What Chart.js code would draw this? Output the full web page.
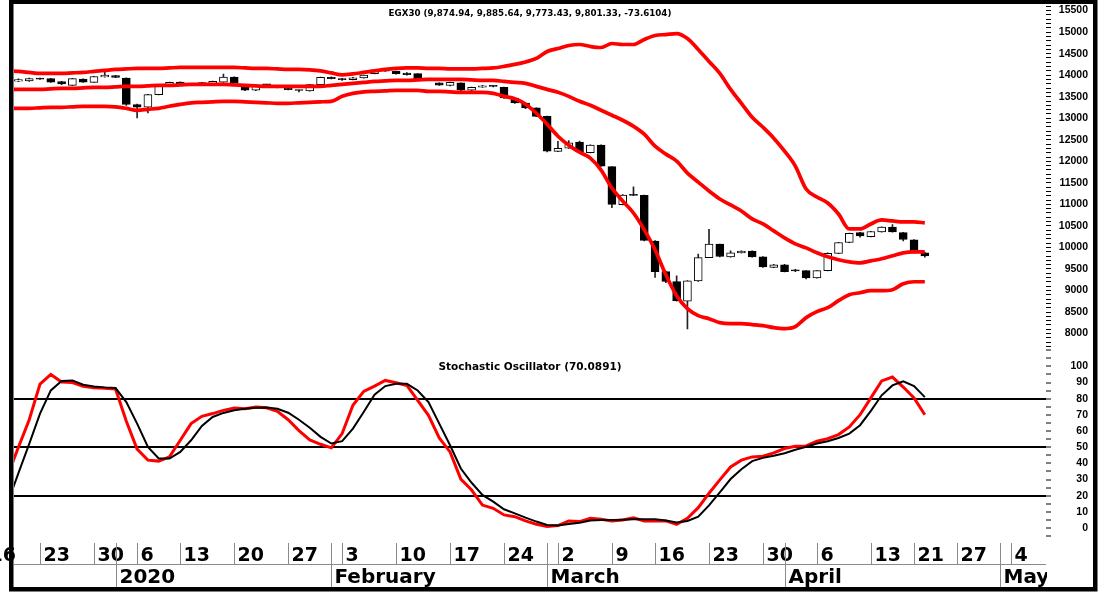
<!DOCTYPE html>
<html>
<head>
<meta charset="utf-8">
<title>EGX30</title>
<script src="https://cdn.jsdelivr.net/npm/chart.js@4.4.0/dist/chart.umd.min.js"></script>
<style>
    html, body { margin: 0; padding: 0; background: #fff; }
    #egxChart { display: block; }
</style>
</head>
<body>
<canvas id="egxChart" width="1104" height="593"></canvas>
<script>
// trading sessions shown on the date axis (Sun-Thu, holidays removed)
var sessions = [
    '2019-12-16', '2019-12-17', '2019-12-18', '2019-12-19', '2019-12-22', '2019-12-23', '2019-12-24', '2019-12-25',
    '2019-12-26', '2019-12-29', '2019-12-30', '2019-12-31', '2020-01-02', '2020-01-05', '2020-01-06', '2020-01-08',
    '2020-01-09', '2020-01-12', '2020-01-13', '2020-01-14', '2020-01-15', '2020-01-16', '2020-01-19', '2020-01-20',
    '2020-01-21', '2020-01-22', '2020-01-23', '2020-01-26', '2020-01-27', '2020-01-28', '2020-01-29', '2020-01-30',
    '2020-02-02', '2020-02-03', '2020-02-04', '2020-02-05', '2020-02-06', '2020-02-09', '2020-02-10', '2020-02-11',
    '2020-02-12', '2020-02-13', '2020-02-16', '2020-02-17', '2020-02-18', '2020-02-19', '2020-02-20', '2020-02-23',
    '2020-02-24', '2020-02-25', '2020-02-26', '2020-02-27', '2020-03-01', '2020-03-02', '2020-03-03', '2020-03-04',
    '2020-03-05', '2020-03-08', '2020-03-09', '2020-03-10', '2020-03-11', '2020-03-15', '2020-03-16', '2020-03-17',
    '2020-03-18', '2020-03-19', '2020-03-22', '2020-03-23', '2020-03-24', '2020-03-25', '2020-03-26', '2020-03-29',
    '2020-03-30', '2020-03-31', '2020-04-01', '2020-04-02', '2020-04-05', '2020-04-06', '2020-04-07', '2020-04-08',
    '2020-04-09', '2020-04-12', '2020-04-13', '2020-04-14', '2020-04-15', '2020-04-16', '2020-04-21', '2020-04-22',
    '2020-04-23', '2020-04-26', '2020-04-27', '2020-04-28', '2020-04-29', '2020-04-30', '2020-05-03', '2020-05-04',
    '2020-05-05', '2020-05-06', '2020-05-07'
];
var firstBar = '2019-12-18';
var viewFrom = '2019-12-19', viewTo = '2020-05-07';

var monthLabels = {'01': '2020', '02': 'February', '03': 'March', '04': 'April', '05': 'May'};

var opens = [
    13875, 13860, 13865, 13925, 13920, 13850, 13765, 13910, 13835, 13960,
    13990, 13935, 13320, 13255, 13550, 13760, 13840, 13785, 13780, 13805,
    13840, 13955, 13725, 13650, 13780, 13720, 13700, 13650, 13635, 13780,
    13950, 13920, 13895, 13935, 14035, 14095, 14090, 14050, 14035, 13912,
    13820, 13760, 13820, 13650, 13720, 13745, 13720, 13470, 13355, 13240,
    13045, 12230, 12305, 12445, 12200, 12375, 11875, 10995, 11215, 11210,
    10150, 9440, 9205, 8750, 9220, 9765, 10075, 9780, 9875, 9915,
    9780, 9535, 9595, 9460, 9460, 9290, 9460, 9860, 10115, 10345,
    10250, 10360, 10475, 10345, 10175, 9874.94
];
var highs = [
    13890, 13915, 13935, 13935, 13925, 13860, 13925, 13915, 13975, 14065,
    13995, 13940, 13330, 13555, 13765, 13840, 13845, 13800, 13835, 13862,
    14025, 13960, 13730, 13745, 13790, 13725, 13705, 13655, 13785, 13955,
    13960, 13925, 13948, 14005, 14132, 14150, 14095, 14060, 14040, 13920,
    13822, 13838, 13822, 13722, 13762, 13760, 13722, 13475, 13360, 13245,
    13050, 12467, 12480, 12470, 12380, 12380, 11880, 11225, 11410, 11215,
    10160, 9450, 9342, 9230, 9845, 10421, 10080, 9920, 9920, 9920,
    9788, 9605, 9605, 9490, 9462, 9462, 9875, 10120, 10336, 10350,
    10375, 10480, 10530, 10350, 10180, 9885.64
];
var lows = [
    13850, 13850, 13855, 13900, 13835, 13780, 13760, 13835, 13830, 13955,
    13945, 13300, 13007, 13122, 13540, 13750, 13775, 13770, 13775, 13798,
    13835, 13810, 13640, 13640, 13765, 13705, 13660, 13610, 13628, 13775,
    13915, 13880, 13890, 13930, 14030, 14090, 14025, 14000, 13915, 13895,
    13765, 13750, 13640, 13643, 13714, 13725, 13460, 13345, 13225, 13035,
    12220, 12225, 12300, 12210, 12195, 11880, 10924, 10990, 11205, 10150,
    9303, 9180, 8750, 8108, 9210, 9760, 9780, 9775, 9870, 9775,
    9535, 9530, 9430, 9440, 9270, 9285, 9452, 9855, 10108, 10240,
    10245, 10355, 10355, 10150, 9870, 9773.43
];
var closes = [
    13865, 13900, 13920, 13910, 13840, 13800, 13920, 13840, 13970, 14000,
    13950, 13320, 13255, 13550, 13760, 13835, 13780, 13780, 13830, 13855,
    13955, 13815, 13650, 13740, 13775, 13712, 13665, 13645, 13780, 13950,
    13920, 13895, 13940, 14000, 14125, 14140, 14035, 14010, 13920, 13908,
    13770, 13835, 13650, 13720, 13755, 13740, 13470, 13355, 13240, 13045,
    12235, 12300, 12430, 12220, 12375, 11890, 11000, 11215, 11210, 10165,
    9440, 9210, 8765, 9225, 9765, 10075, 9790, 9875, 9915, 9780,
    9550, 9595, 9440, 9456, 9290, 9460, 9865, 10115, 10330, 10270,
    10370, 10470, 10360, 10185, 9874.94, 9801.33
];

// bollinger bands
var upperBand = [
    14100, 14088, 14065, 14042, 14042, 14042, 14053, 14065, 14088, 14111,
    14134, 14146, 14157, 14157, 14157, 14169, 14180, 14180, 14180, 14180,
    14180, 14180, 14169, 14157, 14157, 14146, 14134, 14134, 14123, 14099,
    14053, 14007, 14030, 14065, 14099, 14134, 14157, 14169, 14169, 14157,
    14157, 14146, 14146, 14146, 14157, 14169, 14204, 14250, 14308, 14389,
    14551, 14620, 14690, 14713, 14667, 14643, 14736, 14713, 14713, 14829,
    14921, 14944, 14967, 14852, 14597, 14319, 14042, 13671, 13347, 13023,
    12791, 12537, 12236, 11889, 11356, 11171, 11032, 10777, 10430, 10430,
    10546, 10638, 10615, 10592, 10592, 10569
];
var middleBand = [
    13665, 13671, 13671, 13671, 13683, 13694, 13694, 13706, 13717, 13717,
    13729, 13741, 13741, 13752, 13764, 13764, 13775, 13787, 13787, 13787,
    13787, 13775, 13764, 13752, 13741, 13741, 13741, 13741, 13741, 13741,
    13764, 13787, 13810, 13833, 13856, 13868, 13880, 13880, 13891, 13903,
    13903, 13903, 13903, 13891, 13880, 13880, 13856, 13833, 13810, 13741,
    13671, 13602, 13509, 13393, 13301, 13185, 13070, 12954, 12814, 12629,
    12352, 12167, 12005, 11727, 11518, 11310, 11125, 10986, 10847, 10662,
    10546, 10384, 10222, 10083, 9990, 9875, 9782, 9713, 9666, 9643,
    9689, 9736, 9805, 9875, 9898, 9898
];
var lowerBand = [
    13220, 13231, 13231, 13243, 13254, 13254, 13266, 13278, 13278, 13278,
    13266, 13231, 13185, 13208, 13231, 13278, 13324, 13359, 13370, 13382,
    13393, 13393, 13382, 13370, 13359, 13347, 13347, 13359, 13370, 13382,
    13393, 13509, 13578, 13613, 13625, 13636, 13648, 13648, 13648, 13625,
    13625, 13613, 13602, 13602, 13602, 13578, 13509, 13451, 13324, 13116,
    12861, 12583, 12374, 12212, 12074, 11796, 11379, 11078, 10800, 10408,
    9945, 9365, 8879, 8578, 8416, 8346, 8254, 8231, 8231, 8208,
    8184, 8138, 8115, 8161, 8370, 8509, 8601, 8763, 8902, 8948,
    8995, 8995, 9018, 9157, 9203, 9203
];

// stochastic oscillator
var stochK = [
    32.5, 50, 67, 89, 95, 90.3, 90, 87.6, 86.8, 86.4,
    86, 66, 48.8, 42, 41.4, 44, 54.3, 64.6, 69.1, 70.8,
    72.8, 74.2, 73.8, 74.8, 74.4, 72.2, 67, 60.3, 54.5, 51.8,
    49.6, 58.4, 75.9, 84.5, 87.8, 91.3, 89.9, 88.2, 79, 69.7,
    55.7, 47.1, 30.3, 23.5, 14.2, 12.2, 8.1, 7.0, 4.4, 2.3,
    0.9, 1.5, 4.4, 4.0, 6.0, 5.4, 4.4, 5.0, 6.4, 4.4,
    4.4, 4.4, 2.3, 6.0, 12.6, 21.5, 29.8, 37.8, 42.0, 44.0,
    44.4, 46.5, 49.2, 50.6, 50.8, 53.7, 55.3, 57.8, 62.5, 70.1,
    80.5, 91.0, 93.4, 87.2, 80.5, 70.0891
];
var stochD = [
    15.5, 34, 52, 70.8, 85.1, 90.9, 91.3, 88.6, 87.6, 87,
    86.6, 77.9, 64.6, 50.2, 43, 43, 47.1, 54.3, 63.1, 68.7,
    71.2, 72.8, 73.8, 74.4, 74.5, 73.8, 71.3, 67, 62, 56.4,
    52.3, 53.7, 61.5, 71.8, 82.5, 87.8, 89.2, 89.2, 85.1, 77.9,
    64.6, 51.2, 36.8, 28, 20.5, 16.3, 11.6, 9.1, 6.4, 4.0,
    1.9, 1.5, 2.5, 3.3, 4.6, 5.0, 5.0, 5.2, 5.4, 5.4,
    5.4, 4.6, 3.5, 4.4, 7.0, 14, 22, 30.3, 36.4, 41.4,
    43.4, 44.7, 46.3, 48.4, 50.2, 52.3, 53.7, 55.7, 58.4, 63.6,
    72.5, 82.1, 88.2, 90.7, 87.8, 81.0
];
var stochLevels = [20, 50, 80];

var priceTitle = 'EGX30 (9,874.94, 9,885.64, 9,773.43, 9,801.33, -73.6104)';
var stochTitle = 'Stochastic Oscillator (70.0891)';


var offset = sessions.indexOf(firstBar);

function points(arr) {
    return arr.map(function (v, i) {
        return {x: offset + i, y: v};
    });
}

var bodies = opens.map(function (o, i) {
    return {x: offset + i, y: [o, closes[i]]};
});
var wicks = lows.map(function (l, i) {
    return {x: offset + i, y: [l, highs[i]]};
});

function isWeekStart(i) {
    if (i === 0) return true;
    var a = new Date(sessions[i - 1] + 'T00:00:00Z'), b = new Date(sessions[i] + 'T00:00:00Z');
    var monA = a.getTime() - ((a.getUTCDay() + 6) % 7) * 864e5;
    var monB = b.getTime() - ((b.getUTCDay() + 6) % 7) * 864e5;
    return monA !== monB;
}
function isMonthStart(i) {
    return i > 0 && sessions[i].substr(5, 2) !== sessions[i - 1].substr(5, 2);
}

// two-row date axis, titles and outer frame
var decorations = {
    id: 'decorations',
    afterDraw: function (chart) {
        var ctx = chart.ctx, xs = chart.scales.x, area = chart.chartArea;
        var top = area.bottom + 3, mid = area.bottom + 24, bottom = area.bottom + 47;

        ctx.save();
        ctx.beginPath();
        ctx.rect(0, area.bottom, area.right + 1, chart.height - area.bottom);
        ctx.clip();
        ctx.strokeStyle = '#8a8a8a';
        ctx.lineWidth = 1;
        ctx.beginPath();
        ctx.moveTo(area.left, mid + 0.5);
        ctx.lineTo(area.right, mid + 0.5);
        ctx.stroke();
        ctx.fillStyle = '#000';
        ctx.textAlign = 'left';
        ctx.textBaseline = 'alphabetic';
        sessions.forEach(function (d, i) {
            var x = Math.round(xs.getPixelForValue(i)) + 0.5;
            if (isWeekStart(i)) {
                ctx.beginPath();
                ctx.moveTo(x, top);
                ctx.lineTo(x, mid);
                ctx.stroke();
                ctx.font = 'bold 19px "DejaVu Sans"';
                ctx.fillText(String(parseInt(d.substr(8, 2), 10)), x + 3, mid - 3);
            }
            if (isMonthStart(i)) {
                ctx.beginPath();
                ctx.moveTo(x, top);
                ctx.lineTo(x, bottom);
                ctx.stroke();
                ctx.font = 'bold 20px "DejaVu Sans"';
                ctx.fillText(monthLabels[d.substr(5, 2)], x + 3, bottom - 4);
            }
        });
        ctx.restore();

        ctx.save();
        var cx = (area.left + area.right) / 2;
        ctx.fillStyle = '#000';
        ctx.textAlign = 'center';
        ctx.textBaseline = 'middle';
        ctx.font = 'bold 8.7px "DejaVu Sans"';
        ctx.fillText(priceTitle, cx, chart.scales.price.top + 7);
        ctx.font = 'bold 10.5px "DejaVu Sans"';
        ctx.fillText(stochTitle, cx, chart.scales.stoch.top + 21);

        ctx.strokeStyle = '#000';
        ctx.lineWidth = 4.5;
        ctx.strokeRect(11.25, 1.75, 1084, 587.5);
        ctx.restore();
    }
};

var axisFont = {family: '"Liberation Sans", Arial', size: 10.5, weight: 'bold'};

var ctx = document.getElementById('egxChart');
var egxChart = new Chart(ctx, {
    type: 'bar',
    data: {
        datasets: [
            {type: 'line', data: points(stochD), yAxisID: 'stoch', borderColor: '#000', borderWidth: 2, pointRadius: 0, clip: 0, order: 0},
            {type: 'line', data: points(stochK), yAxisID: 'stoch', borderColor: '#ff0000', borderWidth: 3, pointRadius: 0, clip: 0, order: 1},
            {type: 'line', data: points(upperBand), yAxisID: 'price', borderColor: '#ff0000', borderWidth: 3.7, pointRadius: 0, cubicInterpolationMode: 'monotone', clip: 0, order: 2},
            {type: 'line', data: points(middleBand), yAxisID: 'price', borderColor: '#ff0000', borderWidth: 3.7, pointRadius: 0, cubicInterpolationMode: 'monotone', clip: 0, order: 3},
            {type: 'line', data: points(lowerBand), yAxisID: 'price', borderColor: '#ff0000', borderWidth: 3.7, pointRadius: 0, cubicInterpolationMode: 'monotone', clip: 0, order: 4},
            {
                data: bodies, yAxisID: 'price', grouped: false, barThickness: 8, minBarLength: 1,
                backgroundColor: function (c) {
                    return closes[c.dataIndex] >= opens[c.dataIndex] ? '#fff' : '#000';
                },
                borderColor: '#000', borderWidth: 1, borderSkipped: false, clip: 0, order: 5
            },
            {data: wicks, yAxisID: 'price', grouped: false, barThickness: 1, backgroundColor: '#222', clip: 0, order: 6}
        ]
    },
    options: {
        responsive: false,
        animation: false,
        devicePixelRatio: 1,
        layout: {autoPadding: false, padding: {left: 14, top: 4.7, right: 16, bottom: 53}},
        plugins: {legend: {display: false}, tooltip: {enabled: false}},
        scales: {
            x: {
                type: 'linear', display: false, offset: false,
                min: sessions.indexOf(viewFrom) - 0.41,
                max: sessions.indexOf(viewTo) + 0.23
            },
            price: {
                type: 'linear', position: 'right', stack: 'panels', stackWeight: 341,
                min: 7700, max: 15600,
                afterFit: function (s) { s.width = 42; },
                border: {display: false},
                grid: {drawOnChartArea: false, tickLength: 5, tickColor: '#000', tickWidth: 1},
                ticks: {
                    stepSize: 100, autoSkip: false, includeBounds: false, crossAlign: 'far', padding: 0,
                    color: '#000', font: axisFont,
                    callback: function (v) { return v % 500 === 0 ? String(v) : ''; }
                }
            },
            stoch: {
                type: 'linear', position: 'right', stack: 'panels', stackWeight: 194,
                min: -7.4, max: 112.3,
                afterFit: function (s) { s.width = 42; },
                border: {display: false},
                grid: {
                    color: function (c) {
                        return c.tick && stochLevels.indexOf(c.tick.value) >= 0 ? '#000' : 'rgba(0,0,0,0)';
                    },
                    lineWidth: 2, tickLength: 5, tickColor: '#000', tickWidth: 1
                },
                ticks: {
                    stepSize: 5, autoSkip: false, includeBounds: false, crossAlign: 'far', padding: 0,
                    color: '#000', font: axisFont,
                    callback: function (v) { return (v % 10 === 0 && v >= 0 && v <= 100) ? String(v) : ''; }
                }
            }
        }
    },
    plugins: [decorations]
});
</script>
</body>
</html>
